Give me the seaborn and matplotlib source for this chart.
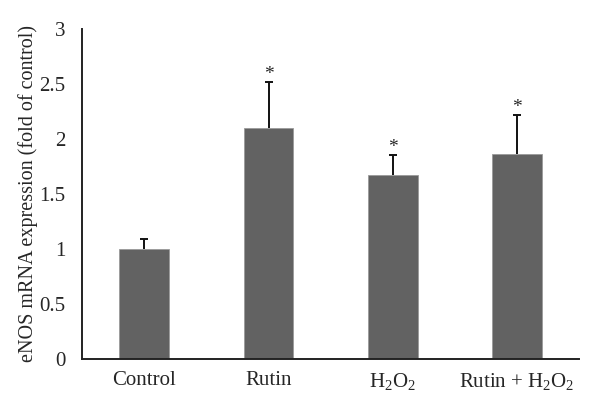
import matplotlib
matplotlib.use('Agg')
import matplotlib.pyplot as plt
import seaborn as sns
import pandas as pd

sns.set_style("white")
plt.rcParams['font.family'] = ['Liberation Serif', 'DejaVu Serif']
plt.rcParams['mathtext.fontset'] = 'custom'
plt.rcParams['mathtext.rm'] = 'Liberation Serif'
plt.rcParams['mathtext.it'] = 'Liberation Serif:italic'

# ====================== DATA ======================
groups = ['Control', 'Rutin', r'H$_\mathregular{2}$O$_\mathregular{2}$',
          r'Rutin + H$_\mathregular{2}$O$_\mathregular{2}$']
expression = [1.0, 2.10, 1.67, 1.86]
sem = [0.09, 0.415, 0.18, 0.36]
significant = [False, True, True, True]

df = pd.DataFrame({'group': groups, 'expression': expression, 'sem': sem})

# ====================== PLOT ======================
fig = plt.figure(figsize=(6, 4.13), dpi=100)
ax = fig.add_axes([0.137, 0.131, 0.828, 0.799])

sns.barplot(data=df, x='group', y='expression', ax=ax, color='#626262',
            saturation=1, width=0.4, errorbar=None, edgecolor='#9a9a9a', linewidth=0.6)

# upward-only error bars
xs = range(len(groups))
_, caps, _ = ax.errorbar(xs, df['expression'], yerr=[[0] * len(sem), df['sem']], fmt='none',
                         ecolor='#111111', elinewidth=1.4, capsize=3, capthick=1.4)
caps[0].set_visible(False)

for i, (v, e, s) in enumerate(zip(expression, sem, significant)):
    if s:
        ax.text(i, v + e + 0.07, '*', ha='center', va='center', fontsize=14)

ax.set_xlim(-0.5, 3.5)
ax.set_ylim(0, 3)
ax.set_yticks([0, 0.5, 1, 1.5, 2, 2.5, 3])
ax.set_yticklabels(['0', '0.5', '1', '1.5', '2', '2.5', '3'])
ax.set_xlabel('')
ax.set_ylabel('eNOS mRNA expression (fold of control)', fontsize=14.5, labelpad=1)
ax.tick_params(axis='y', length=0, labelsize=15, pad=12)
ax.tick_params(axis='x', length=0, labelsize=15, pad=9)
sns.despine(ax=ax)
for sp in ['left', 'bottom']:
    ax.spines[sp].set_color('#222222')
    ax.spines[sp].set_linewidth(1.4)

plt.savefig('out.png', dpi=100)
